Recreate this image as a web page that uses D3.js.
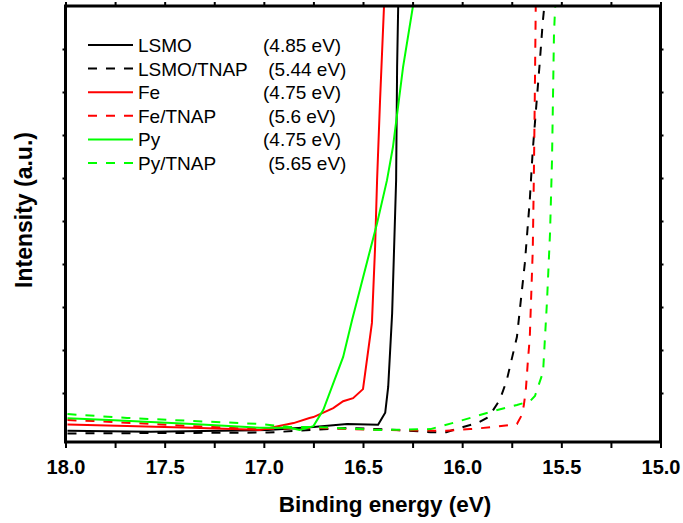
<!DOCTYPE html>
<meta charset="utf-8">
<script src="https://d3js.org/d3.v7.min.js"></script>
<style>
  body { margin: 0; background: #fff; }
  svg text { font-family: Arial, "Liberation Sans", sans-serif; }
</style>
<div id="chart"></div>
<script>

// series names + work function shown in legend
var names = ["LSMO", "LSMO/TNAP", "Fe", "Fe/TNAP", "Py", "Py/TNAP"];
var workFunctions = ["(4.85 eV)", " (5.44 eV)", "(4.75 eV)", " (5.6 eV)", "(4.75 eV)", " (5.65 eV)"];

// binding energy (eV) / intensity (a.u.)
var lsmoE  = [17.99, 17.57, 16.98, 16.75, 16.58, 16.424, 16.388, 16.373, 16.353, 16.343, 16.333, 16.328, 16.321];
var lsmoI  = [0.12, 0.10, 0.14, 0.21, 0.28, 0.26, 0.54, 1.14, 2.86, 4.40, 5.95, 8.58, 10.4];

var lsmoTnapE = [17.99, 16.98, 16.58, 16.33, 16.16, 16.08, 15.995, 15.925, 15.875, 15.85, 15.81, 15.775, 15.724, 15.684, 15.659, 15.644, 15.624, 15.609, 15.594, 15.577];
var lsmoTnapI = [0.06, 0.08, 0.19, 0.14, 0.09, 0.09, 0.21, 0.30, 0.42, 0.56, 0.84, 1.30, 2.30, 4.02, 5.49, 6.65, 7.81, 8.67, 9.61, 10.4];

var feE = [17.99, 17.69, 17.36, 17.02, 16.85, 16.77, 16.75, 16.65, 16.60, 16.55, 16.50, 16.455, 16.439, 16.429, 16.414, 16.394, 16.392];
var feI = [0.27, 0.23, 0.19, 0.14, 0.30, 0.42, 0.44, 0.65, 0.81, 0.88, 1.09, 2.63, 4.40, 5.95, 7.81, 10.0, 10.4];

var feTnapE = [17.99, 17.86, 17.36, 17.02, 16.75, 16.41, 16.08, 15.96, 15.84, 15.724, 15.699, 15.689, 15.679, 15.669, 15.659, 15.644, 15.639, 15.634, 15.629, 15.627];
var feTnapI = [0.37, 0.35, 0.23, 0.16, 0.19, 0.14, 0.12, 0.16, 0.21, 0.28, 0.49, 0.72, 1.07, 1.72, 2.30, 4.33, 5.88, 7.81, 10.0, 10.4];

var pyE = [17.99, 17.78, 17.36, 17.02, 16.87, 16.82, 16.75, 16.70, 16.60, 16.555, 16.429, 16.379, 16.349, 16.298, 16.248, 16.238];
var pyI = [0.41, 0.37, 0.28, 0.19, 0.19, 0.14, 0.23, 0.61, 1.84, 2.70, 4.95, 5.95, 6.72, 8.58, 10.0, 10.35];

var pyTnapE = [17.99, 17.69, 17.36, 17.02, 16.87, 16.75, 16.41, 16.16, 16.05, 15.945, 15.844, 15.724, 15.658, 15.633, 15.592, 15.572, 15.557, 15.547, 15.537, 15.527];
var pyTnapI = [0.51, 0.42, 0.35, 0.28, 0.21, 0.21, 0.14, 0.16, 0.30, 0.44, 0.58, 0.72, 0.81, 0.93, 1.49, 3.16, 4.72, 6.42, 9.37, 10.4];

var xTickValues = [18.0, 17.5, 17.0, 16.5, 16.0, 15.5, 15.0];
var xMinorValues = [17.75, 17.25, 16.75, 16.25, 15.75, 15.25];
var yTickValues = [1, 2, 3, 4, 5, 6, 7, 8, 9];

var seriesE = [lsmoE, lsmoTnapE, feE, feTnapE, pyE, pyTnapE];
var seriesI = [lsmoI, lsmoTnapI, feI, feTnapI, pyI, pyTnapI];
var colors = ["#000000", "#000000", "#ff0000", "#ff0000", "#00ff00", "#00ff00"];
var dashed = [false, true, false, true, false, true];

var width = 683, height = 523;
var plotLeft = 65.5, plotRight = 660.5, plotTop = 6, plotBottom = 442;

var svg = d3.select("#chart").append("svg").attr("width", width).attr("height", height);

var x = d3.scaleLinear().domain([18, 15]).range([plotLeft, plotRight]);
var y = d3.scaleLinear().domain([10 - (plotBottom - plotTop) / 43, 10]).range([plotBottom, plotTop]);

svg.append("defs").append("clipPath").attr("id", "plotclip")
  .append("rect").attr("x", plotLeft).attr("y", plotTop)
  .attr("width", plotRight - plotLeft).attr("height", plotBottom - plotTop);

// curves
var line = d3.line().x(function(d) { return x(d[0]); }).y(function(d) { return y(d[1]); });

var curves = svg.append("g").attr("clip-path", "url(#plotclip)");
seriesE.forEach(function(es, i) {
  var pts = es.map(function(e, j) { return [e, seriesI[i][j]]; });
  curves.append("path")
    .datum(pts)
    .attr("d", line)
    .attr("fill", "none")
    .attr("stroke", colors[i])
    .attr("stroke-width", 2)
    .attr("stroke-dasharray", dashed[i] ? "9,9" : null);
});

// axes (ticks outward, frame drawn separately)
function styleAxis(g) {
  g.select(".domain").remove();
  g.selectAll(".tick line").attr("stroke", "#000").attr("stroke-width", 2);
  g.selectAll(".tick text").attr("font-size", 20).attr("font-weight", "bold").attr("fill", "#000");
}

svg.append("g").attr("transform", "translate(0," + plotBottom + ")")
  .call(d3.axisBottom(x).tickValues(xTickValues).tickFormat(d3.format(".1f")).tickSize(6).tickPadding(12))
  .call(styleAxis);
svg.append("g").attr("transform", "translate(0," + plotBottom + ")")
  .call(d3.axisBottom(x).tickValues(xMinorValues).tickFormat("").tickSize(6))
  .call(styleAxis);
svg.append("g").attr("transform", "translate(0," + plotTop + ")")
  .call(d3.axisTop(x).tickValues(xTickValues.concat(xMinorValues)).tickFormat("").tickSize(4))
  .call(styleAxis);
svg.append("g").attr("transform", "translate(" + plotLeft + ",0)")
  .call(d3.axisLeft(y).tickValues(yTickValues).tickFormat("").tickSize(3))
  .call(styleAxis);
svg.append("g").attr("transform", "translate(" + plotRight + ",0)")
  .call(d3.axisRight(y).tickValues(yTickValues).tickFormat("").tickSize(3))
  .call(styleAxis);

svg.append("rect")
  .attr("x", plotLeft).attr("y", plotTop)
  .attr("width", plotRight - plotLeft).attr("height", plotBottom - plotTop)
  .attr("fill", "none").attr("stroke", "#000").attr("stroke-width", 3);

// axis titles
svg.append("text")
  .attr("x", 385).attr("y", 512)
  .attr("text-anchor", "middle")
  .attr("font-size", 22.5).attr("font-weight", "bold")
  .text("Binding energy (eV)");

svg.append("text")
  .attr("transform", "translate(32,210) rotate(-90)")
  .attr("text-anchor", "middle")
  .attr("font-size", 23).attr("font-weight", "bold")
  .text("Intensity (a.u.)");

// legend
var legend = svg.append("g");
names.forEach(function(n, i) {
  var ly = 45 + i * 23.6;
  legend.append("line")
    .attr("x1", 88).attr("x2", 133).attr("y1", ly).attr("y2", ly)
    .attr("stroke", colors[i]).attr("stroke-width", 2)
    .attr("stroke-dasharray", dashed[i] ? "9,9" : null);
  legend.append("text")
    .attr("x", 138).attr("y", ly + 7)
    .attr("font-size", 19)
    .text(n);
  legend.append("text")
    .attr("x", 263).attr("y", ly + 7)
    .attr("font-size", 19)
    .style("white-space", "pre")
    .text(workFunctions[i]);
});

</script>
